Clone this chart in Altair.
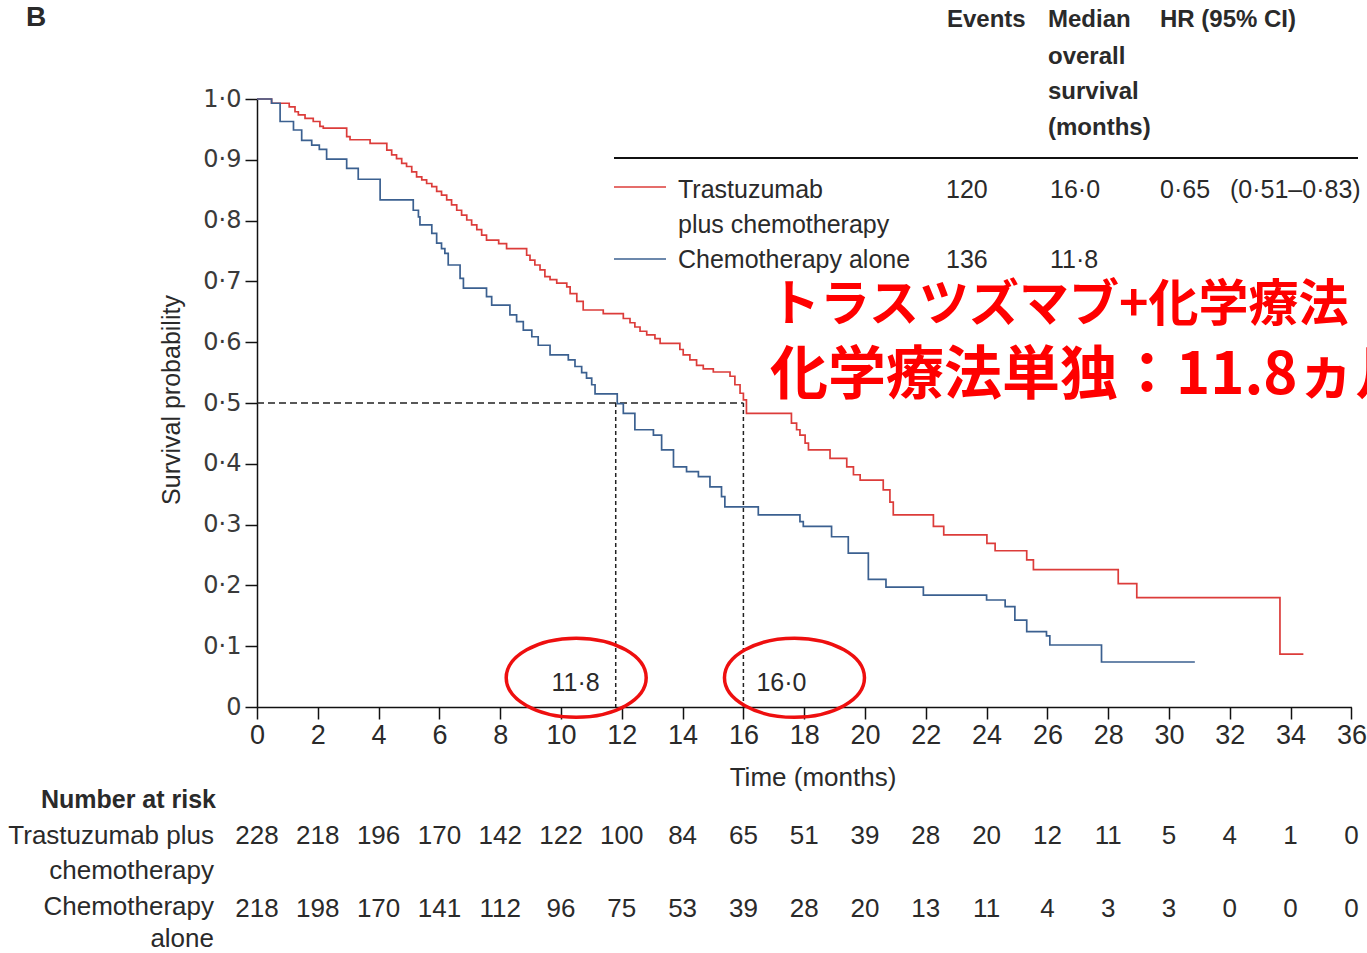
import altair as alt
import pandas as pd

# Kaplan-Meier step points: month of each drop and survival right after it
tz_time = [0, 0.48, 1.06, 1.25, 1.36, 1.58, 1.85, 2.07, 2.18, 2.95, 3.06, 3.72,
           4.27, 4.43, 4.59, 4.76, 4.92, 5.09, 5.25, 5.42, 5.58, 5.75, 5.91, 6.07,
           6.24, 6.40, 6.57, 6.73, 6.90, 7.06, 7.23, 7.39, 7.55, 7.95, 8.21, 8.87,
           8.98, 9.14, 9.31, 9.47, 9.64, 9.86, 10.19, 10.30, 10.52, 10.73, 11.39,
           12.05, 12.27, 12.43, 12.60, 12.82, 13.09, 13.26, 13.91, 14.02, 14.24,
           14.46, 14.68, 15.01, 15.56, 15.72, 15.89, 16.00, 16.10, 17.58, 17.75,
           17.86, 18.03, 18.14, 18.85, 19.40, 19.62, 19.84, 20.60, 20.82, 20.93,
           22.25, 22.59, 24.01, 24.28, 25.32, 25.54, 28.33, 28.94, 33.65, 34.42]
tz_surv = [1.0, 0.993, 0.987, 0.979, 0.974, 0.968, 0.963, 0.955, 0.952, 0.938, 0.933, 0.927,
           0.916, 0.908, 0.902, 0.894, 0.889, 0.880, 0.872, 0.867, 0.861, 0.856, 0.848, 0.842,
           0.834, 0.826, 0.817, 0.809, 0.801, 0.793, 0.785, 0.776, 0.768, 0.762, 0.754, 0.743,
           0.735, 0.727, 0.719, 0.708, 0.703, 0.697, 0.691, 0.680, 0.667, 0.653, 0.647,
           0.639, 0.632, 0.625, 0.618, 0.612, 0.606, 0.598, 0.588, 0.579, 0.571,
           0.562, 0.556, 0.551, 0.544, 0.530, 0.516, 0.505, 0.483, 0.467, 0.456,
           0.447, 0.434, 0.423, 0.409, 0.395, 0.382, 0.373, 0.357, 0.337, 0.316,
           0.297, 0.283, 0.269, 0.257, 0.242, 0.226, 0.203, 0.180, 0.087, 0.087]

ch_time = [0, 0.48, 0.76, 1.20, 1.47, 1.80, 2.05, 2.29, 2.95, 3.33, 4.05, 5.14,
           5.31, 5.36, 5.75, 5.91, 6.07, 6.18, 6.29, 6.68, 6.79, 7.55, 7.72, 8.32,
           8.54, 8.76, 9.04, 9.25, 9.64, 10.24, 10.46, 10.68, 10.84, 11.01, 11.12,
           11.85, 12.05, 12.43, 13.04, 13.31, 13.70, 14.13, 14.52, 14.90, 15.28,
           15.39, 16.49, 17.86, 17.97, 18.90, 19.45, 20.11, 20.69, 21.92, 24.00,
           24.61, 24.93, 25.32, 25.97, 26.08, 27.78, 30.85]
ch_surv = [1.0, 0.993, 0.963, 0.949, 0.932, 0.924, 0.917, 0.901, 0.886, 0.868, 0.834, 0.817,
           0.806, 0.793, 0.779, 0.763, 0.754, 0.746, 0.727, 0.705, 0.689, 0.675, 0.661, 0.645,
           0.634, 0.620, 0.609, 0.595, 0.579, 0.571, 0.560, 0.550, 0.541, 0.530, 0.515,
           0.499, 0.483, 0.456, 0.447, 0.423, 0.395, 0.387, 0.379, 0.362, 0.346,
           0.329, 0.316, 0.305, 0.297, 0.280, 0.253, 0.210, 0.197, 0.184, 0.176,
           0.165, 0.143, 0.124, 0.117, 0.102, 0.074, 0.074]

arms = ["Trastuzumab plus chemotherapy", "Chemotherapy alone"]
arm_colors = ["#dc3c3a", "#3b6090"]

median_tz = 16.0
median_ch = 11.8
median_labels = ["16·0", "11·8"]

risk_months = list(range(0, 37, 2))
risk_tz = [228, 218, 196, 170, 142, 122, 100, 84, 65, 51, 39, 28, 20, 12, 11, 5, 4, 1, 0]
risk_ch = [218, 198, 170, 141, 112, 96, 75, 53, 39, 28, 20, 13, 11, 4, 3, 3, 0, 0, 0]

FONT = "Liberation Sans, Arial, sans-serif"
INK = "#2a2a2a"
JP_FONT = "Noto Sans CJK JP"

W, H = 1094.4, 608

km_df = pd.concat([
    pd.DataFrame({"t": tz_time, "s": tz_surv, "arm": arms[0]}),
    pd.DataFrame({"t": ch_time, "s": ch_surv, "arm": arms[1]}),
])

x_scale = alt.Scale(domain=[0, 36], nice=False, zero=False)
y_scale = alt.Scale(domain=[0, 1], nice=False)

x_axis = alt.Axis(values=risk_months, tickSize=12, labelFontSize=27, labelFont=FONT,
                  labelColor=INK, domainColor="#111", tickColor="#111", domainWidth=1.5,
                  tickWidth=1.5, grid=False, title=None, labelPadding=3, labelOverlap=False,
                  labelFlush=False)
y_axis = alt.Axis(values=[round(i * 0.1, 1) for i in range(11)], tickSize=12, labelFontSize=24,
                  labelFont="DejaVu Sans", labelColor="#3a3a3a", domainColor="#111",
                  tickColor="#111", domainWidth=1.5, tickWidth=1.5, grid=False, title=None,
                  labelPadding=4, labelOverlap=False, labelFlush=False,
                  labelExpr="datum.value == 0 ? '0' : replace(format(datum.value, '.1f'), '.', '·')")

km = alt.Chart(km_df).mark_line(interpolate="step-after", strokeWidth=1.7).encode(
    x=alt.X("t:Q", scale=x_scale, axis=x_axis),
    y=alt.Y("s:Q", scale=y_scale, axis=y_axis),
    color=alt.Color("arm:N", scale=alt.Scale(domain=arms, range=arm_colors), legend=None),
)

# dashed guides at survival 0.5 and at each median
h_df = pd.DataFrame({"x": [0.0], "x2": [median_tz], "y": [0.5]})
h_rule = alt.Chart(h_df).mark_rule(color="#222", strokeWidth=1.5, strokeDash=[7, 4]).encode(
    x=alt.X("x:Q", scale=x_scale), x2="x2:Q", y=alt.Y("y:Q", scale=y_scale))
v_df = pd.DataFrame({"x": [median_ch, median_tz], "y": [0.5, 0.5], "y2": [0.0, 0.0]})
v_rule = alt.Chart(v_df).mark_rule(color="#222", strokeWidth=1.5, strokeDash=[4, 3]).encode(
    x=alt.X("x:Q", scale=x_scale), y=alt.Y("y:Q", scale=y_scale), y2="y2:Q")

# median values written beside the guides, circled in red
lab_ch = alt.Chart(pd.DataFrame({"x": [median_ch], "y": [0.039], "t": [median_labels[1]]})).mark_text(
    align="right", baseline="middle", dx=-16, fontSize=25, font=FONT, color=INK).encode(
    x=alt.X("x:Q", scale=x_scale), y=alt.Y("y:Q", scale=y_scale), text="t:N")
lab_tz = alt.Chart(pd.DataFrame({"x": [median_tz], "y": [0.039], "t": [median_labels[0]]})).mark_text(
    align="left", baseline="middle", dx=13, fontSize=25, font=FONT, color=INK).encode(
    x=alt.X("x:Q", scale=x_scale), y=alt.Y("y:Q", scale=y_scale), text="t:N")

ellipse = "M -1 0 A 1 0.565 0 1 1 1 0 A 1 0.565 0 1 1 -1 0 Z"
ring_df = pd.DataFrame({"x": [10.5, 17.68], "y": [0.048, 0.048]})
rings = alt.Chart(ring_df).mark_point(shape=ellipse, size=19600, filled=False, color="#ee0f0f",
                                      strokeWidth=3.5, opacity=1).encode(
    x=alt.X("x:Q", scale=x_scale), y=alt.Y("y:Q", scale=y_scale))

# number-at-risk table under the axis
risk_df = pd.DataFrame({"m": risk_months, "a": risk_tz, "b": risk_ch})
risk_a = alt.Chart(risk_df).mark_text(fontSize=26, font=FONT, color=INK, baseline="middle").encode(
    x=alt.X("m:Q", scale=x_scale), y=alt.value(737), text="a:Q")
risk_b = alt.Chart(risk_df).mark_text(fontSize=26, font=FONT, color=INK, baseline="middle").encode(
    x=alt.X("m:Q", scale=x_scale), y=alt.value(810), text="b:Q")


def label(text, x, y, size=25, weight="normal", align="left", font=FONT, color=INK, angle=0):
    return alt.Chart(pd.DataFrame({"t": [text]})).mark_text(
        align=align, baseline="middle", fontSize=size, fontWeight=weight, font=font,
        color=color, angle=angle).encode(x=alt.value(x), y=alt.value(y), text="t:N")


def swatch(color, x, x2, y, width=1.5):
    return alt.Chart(pd.DataFrame({"c": [color]})).mark_rule(color=color, strokeWidth=width).encode(
        x=alt.value(x), x2=alt.value(x2), y=alt.value(y))


texts = [
    label("B", -231, -81, size=28, weight="bold"),
    label("Survival probability", -85, 301, size=25, align="center", angle=270),
    label("Time (months)", 556, 679, size=26, align="center"),
    label("Number at risk", -41, 701, weight="bold", align="right"),
    label("Trastuzumab plus", -43, 737, size=26, align="right"),
    label("chemotherapy", -43, 772, size=26, align="right"),
    label("Chemotherapy", -43, 808, size=26, align="right"),
    label("alone", -43, 840, size=26, align="right"),
    # legend table
    label("Events", 690, -79, size=24, weight="bold"),
    label("Median", 791, -79, size=24, weight="bold"),
    label("overall", 791, -42, size=24, weight="bold"),
    label("survival", 791, -7, size=24, weight="bold"),
    label("(months)", 791, 29, size=24, weight="bold"),
    label("HR (95% CI)", 903, -79, size=24, weight="bold"),
    label("Trastuzumab", 421, 91),
    label("plus chemotherapy", 421, 126),
    label("120", 689, 91),
    label("16·0", 793, 91),
    label("0·65", 903, 91),
    label("(0·51–0·83)", 973, 91),
    label("Chemotherapy alone", 421, 161),
    label("136", 689, 161),
    label("11·8", 793, 161),
    # red overlay text
    label("トラスツズマブ+化学療法：16.0ヵ月", 513, 207, size=50, weight="bold",
          font=JP_FONT, color="#ff0000"),
    label("化学療法単独：11.8ヵ月", 513, 278, size=58, weight="bold",
          font=JP_FONT, color="#ff0000"),
]

marks = [
    swatch("#111111", 357, 1101, 59, width=2),
    swatch(arm_colors[0], 357, 409, 88),
    swatch(arm_colors[1], 357, 409, 160),
]

chart = alt.layer(
    h_rule, v_rule, km, rings, lab_ch, lab_tz, risk_a, risk_b, *marks, *texts
).properties(
    width=W, height=H,
    padding={"left": 257, "top": 99, "right": 15.6, "bottom": 246},
    autosize=alt.AutoSizeParams(type="none"),
    background="white",
).configure_view(stroke=None)

chart.save("out.html", embed_options={"renderer": "svg", "actions": False})
